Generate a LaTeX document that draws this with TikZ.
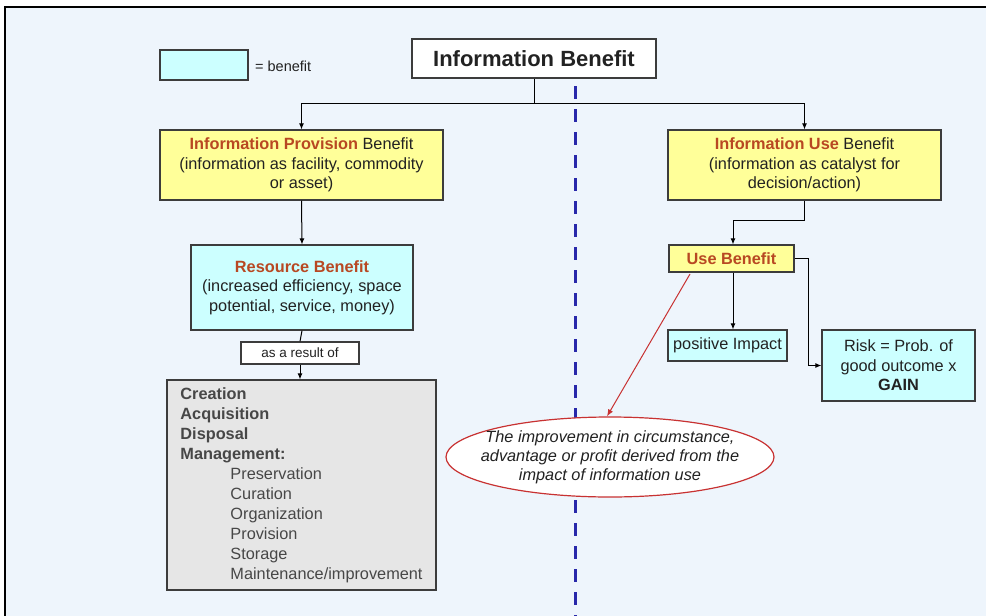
\documentclass[tikz,border=0pt]{standalone}
\usepackage{fontspec}
\setmainfont{Liberation Sans}
\usetikzlibrary{arrows.meta,shapes.geometric}
\definecolor{bg}{RGB}{238,245,252}
\definecolor{boxyellow}{RGB}{255,255,153}
\definecolor{boxcyan}{RGB}{204,255,255}
\definecolor{boxgray}{RGB}{230,230,230}
\definecolor{hilite}{RGB}{184,72,34}
\definecolor{divider}{RGB}{40,40,170}
\definecolor{bodytext}{RGB}{34,34,34}
\definecolor{edgegray}{RGB}{60,60,60}
\definecolor{ovalred}{RGB}{200,50,50}
\tikzset{
  card/.style={draw=edgegray, line width=1.2pt, text=bodytext, inner sep=0pt,
    align=center, font=\fontsize{16.3}{19.5}\selectfont},
  provcard/.style={card, fill=boxyellow},
  gaincard/.style={card, fill=boxcyan},
  link/.style={draw=black, line width=1pt},
  arrowlink/.style={link, -{Latex[length=6pt,width=5pt]}},
}
\newcommand{\hl}[1]{\textcolor{hilite}{\textbf{#1}}}
\begin{document}
\begin{tikzpicture}[x=1pt,y=-1pt]
\useasboundingbox (0,0) rectangle (986,616);
\fill[white] (0,0) rectangle (986,616);
\begin{scope}
  \clip (0,0) rectangle (986,616);
  \fill[bg] (5,7) rectangle (995,625);
  \draw[black, line width=2.2pt] (995,7) -- (5,7) -- (5,625);
\end{scope}

% central divider
\draw[divider, line width=3pt, dash pattern=on 13pt off 10pt] (575,86) -- (575,616);

% legend
\node[gaincard, minimum width=88pt, minimum height=30pt] (legend) at (204,65) {};
\node[anchor=west, text=bodytext, font=\fontsize{14.5}{16}\selectfont, inner sep=0pt] (legendtxt) at (255,66) {= benefit};

% top node
\node[card, fill=white, minimum width=244pt, minimum height=39pt,
      font=\fontsize{22}{26}\bfseries] (title) at (534,58.5) {Information Benefit};

% provision branch
\node[provcard, minimum width=283pt, minimum height=70pt] (prov) at (301.5,165)
  {\hl{Information Provision} Benefit\\(information as facility, commodity\\or asset)};
\node[gaincard, minimum width=222pt, minimum height=85pt] (res) at (302,287.5)
  {\hl{Resource Benefit}\\(increased efficiency, space\\potential, service, money)};
\node[card, fill=white, minimum width=118pt, minimum height=22pt,
      font=\fontsize{13.5}{15}\selectfont] (result) at (300,353) {as a result of};
\node[card, fill=boxgray, minimum width=269pt, minimum height=210pt, align=left,
      text=black!72, font=\fontsize{16.3}{20}\selectfont] (acts) at (301.5,485)
  {\textbf{Creation}\\\textbf{Acquisition}\\\textbf{Disposal}\\\textbf{Management:}\\
   \hspace*{50pt}Preservation\\\hspace*{50pt}Curation\\\hspace*{50pt}Organization\\
   \hspace*{50pt}Provision\\\hspace*{50pt}Storage\\\hspace*{50pt}Maintenance/improvement};

% use branch
\node[provcard, minimum width=273pt, minimum height=70pt] (use) at (804.5,165)
  {\hl{Information Use} Benefit\\(information as catalyst for\\decision/action)};
\node[provcard, minimum width=125pt, minimum height=27pt] (usebf) at (731.5,258.5)
  {\hl{Use Benefit}};
\node[gaincard, minimum width=119pt, minimum height=31pt] (pos) at (727.5,345.5)
  {positive Impact};
\node[gaincard, minimum width=153pt, minimum height=71pt] (risk) at (898.5,365.5)
  {Risk = Prob. of\\good outcome x\\\textbf{GAIN}};

% explanation oval
\node[ellipse, draw=ovalred, line width=1.2pt, fill=white, minimum width=328pt,
      minimum height=80pt, inner xsep=-30pt, inner ysep=-8pt, align=center, text=bodytext,
      font=\fontsize{16.3}{19}\itshape] (oval) at (610,457)
  {The improvement in circumstance,\\advantage or profit derived from the\\impact of information use};

% connectors
\coordinate (split) at ([yshift=-25pt]title.south);
\draw[link] (title.south) -- (split);
\draw[arrowlink] (split) -| (prov.north);
\draw[arrowlink] (split) -| (use.north);
\draw[arrowlink] (prov.south) -- (res.north);
\draw[link] (res.south) -- (result.north);
\draw[arrowlink] (result.south) -- (result.south |- acts.north);
\coordinate (usebend) at ([yshift=-20pt]use.south);
\draw[arrowlink] (use.south) -- (usebend) -| ([xshift=1.5pt]usebf.north);
\draw[arrowlink] ([xshift=1.5pt]usebf.south) -- ([xshift=1.5pt]usebf.south |- pos.north);
\coordinate (riskbend) at ([xshift=14pt]usebf.east);
\draw[arrowlink] (usebf.east) -- (riskbend) |- (risk.west);
\coordinate (notefrom) at (690,274);
\draw[ovalred, line width=1pt, -{Latex[length=7pt,width=5.5pt]}] (notefrom) -- ([xshift=-3pt]oval.north);
\end{tikzpicture}
\end{document}
